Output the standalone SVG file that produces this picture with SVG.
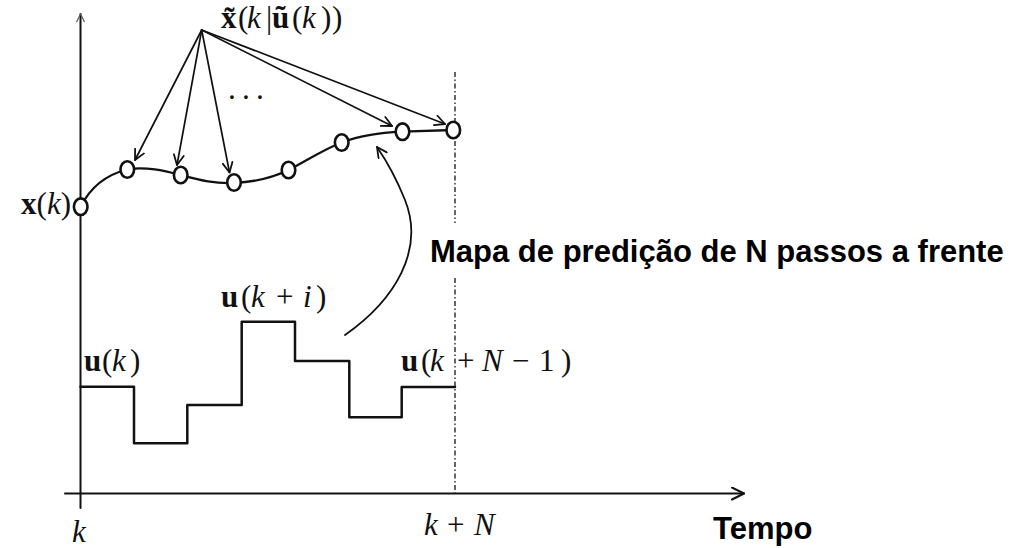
<svg xmlns="http://www.w3.org/2000/svg" width="1010" height="548" viewBox="0 0 1010 548">
<style>
.m{font-family:"Liberation Serif","DejaVu Serif",serif;font-size:31px;fill:#111}
.b{font-weight:bold}
.i{font-style:italic}
.d{text-anchor:middle}
.s{font-family:"Liberation Sans",Arial,sans-serif;font-weight:bold;font-size:31px;fill:#000}
.ln{fill:none;stroke:#111;stroke-linecap:round;stroke-linejoin:round}
.pt{fill:#fff;stroke:#111;stroke-width:2.6}
</style>
<defs>
<marker id="ah" markerWidth="14" markerHeight="12" refX="11" refY="6" orient="auto" markerUnits="userSpaceOnUse">
<path d="M1,1 L11,6 L1,11" fill="none" stroke="#111" stroke-width="1.8" stroke-linecap="round" stroke-linejoin="round"/>
</marker>
<marker id="ax" markerWidth="16" markerHeight="14" refX="13" refY="7" orient="auto" markerUnits="userSpaceOnUse">
<path d="M1,1 L13,7 L1,13" fill="none" stroke="#111" stroke-width="2" stroke-linecap="round" stroke-linejoin="round"/>
</marker>
<marker id="axs" markerWidth="12" markerHeight="10" refX="9" refY="5" orient="auto" markerUnits="userSpaceOnUse">
<path d="M1,1 L9,5 L1,9" fill="none" stroke="#555" stroke-width="1.2"/>
</marker>
</defs>
<rect width="1010" height="548" fill="#fff"/>

<g id="axes">
<line class="ln" x1="80.5" y1="508" x2="80.5" y2="14" stroke-width="2" marker-end="url(#axs)"/>
<line class="ln" x1="65" y1="493.5" x2="744" y2="493.5" stroke-width="2" marker-end="url(#ax)"/>
<line x1="455" y1="72" x2="455" y2="223" stroke="#333" stroke-width="1.5" stroke-dasharray="5,2.5,1.5,2.5"/>
<line x1="455" y1="278" x2="455" y2="493" stroke="#333" stroke-width="1.5" stroke-dasharray="5,2.5,1.5,2.5"/>
</g>

<g id="input-steps">
<path class="ln" stroke-width="2.5" stroke-linecap="butt" d="M80.5,386.7 H134 V443.3 H187.3 V405 H241.7 V321.7 H295 V361 H349.3 V417.3 H401.7 V387 H455"/>
</g>

<g id="trajectory">
<path class="ln" stroke-width="2.3" d="M80.7,206.7 C90,188 105,175 127.3,169.5 C145,166 165,171 180.7,175 C200,180 215,184 234,183 C255,182 272,178 288.5,170 C305,162 322,150 341.7,142.5 C360,135 380,133 402.5,131.7 L453.3,130"/>
</g>

<g id="connectors">
<line class="ln" stroke-width="1.7" x1="201.7" y1="30" x2="135" y2="160" marker-end="url(#ah)"/>
<line class="ln" stroke-width="1.7" x1="201.7" y1="30" x2="177" y2="165" marker-end="url(#ah)"/>
<line class="ln" stroke-width="1.7" x1="201.7" y1="30" x2="229.5" y2="172.5" marker-end="url(#ah)"/>
<line class="ln" stroke-width="1.7" x1="201.7" y1="30" x2="392" y2="126" marker-end="url(#ah)"/>
<line class="ln" stroke-width="1.7" x1="201.7" y1="30" x2="445" y2="124" marker-end="url(#ah)"/>
<path class="ln" stroke-width="1.8" d="M345,335 C395,300 425,250 405,200 C397,180 388,163 377,147" marker-end="url(#ah)"/>
</g>

<g id="node-xk"><ellipse class="pt" cx="80.7" cy="206.7" rx="6.8" ry="8.3"/></g>
<g id="node-1"><ellipse class="pt" cx="127.3" cy="169.5" rx="6.8" ry="8.3"/></g>
<g id="node-2"><ellipse class="pt" cx="180.7" cy="175" rx="6.8" ry="8.3"/></g>
<g id="node-3"><ellipse class="pt" cx="234" cy="182.5" rx="6.8" ry="8.3"/></g>
<g id="node-4"><ellipse class="pt" cx="288.5" cy="170" rx="6.8" ry="8.3"/></g>
<g id="node-5"><ellipse class="pt" cx="341.7" cy="142.5" rx="6.8" ry="8.3"/></g>
<g id="node-6"><ellipse class="pt" cx="402.5" cy="131.7" rx="6.8" ry="8.3"/></g>
<g id="node-7"><ellipse class="pt" cx="453.3" cy="130" rx="6.8" ry="8.3"/></g>

<g id="labels">
<text class="m" y="28"><tspan class="b" x="221">x̃</tspan><tspan x="238">(</tspan><tspan class="i" x="247">k</tspan><tspan x="266">|</tspan><tspan class="b" x="272">ũ</tspan><tspan x="292">(</tspan><tspan class="i" x="302">k</tspan><tspan x="321">)</tspan><tspan x="332">)</tspan></text>
<text class="m d" y="108"><tspan x="232">·</tspan><tspan x="246">·</tspan><tspan x="260">·</tspan></text>
<text class="m" x="71" y="214" font-size="26" text-anchor="end"><tspan class="b">x</tspan>(<tspan class="i">k</tspan>)</text>
<text class="m" y="371"><tspan class="b" x="84">u</tspan><tspan x="102">(</tspan><tspan class="i" x="112">k</tspan><tspan x="130">)</tspan></text>
<text class="m" y="307"><tspan class="b" x="221">u</tspan><tspan x="241">(</tspan><tspan class="i" x="251">k</tspan><tspan x="276">+</tspan><tspan class="i" x="303">i</tspan><tspan x="316">)</tspan></text>
<text class="m" y="371"><tspan class="b" x="401">u</tspan><tspan x="421">(</tspan><tspan class="i" x="430">k</tspan><tspan x="457">+</tspan><tspan class="i" x="482">N</tspan><tspan x="512">−</tspan><tspan x="539">1</tspan><tspan x="561">)</tspan></text>
<text class="m i" x="72" y="542">k</text>
<text class="m" y="535"><tspan class="i" x="424">k</tspan><tspan x="447">+</tspan><tspan class="i" x="474">N</tspan></text>
<text class="s" x="430" y="262">Mapa de predição de N passos a frente</text>
<text class="s" x="713" y="539" font-size="30">Tempo</text>
</g>
</svg>
